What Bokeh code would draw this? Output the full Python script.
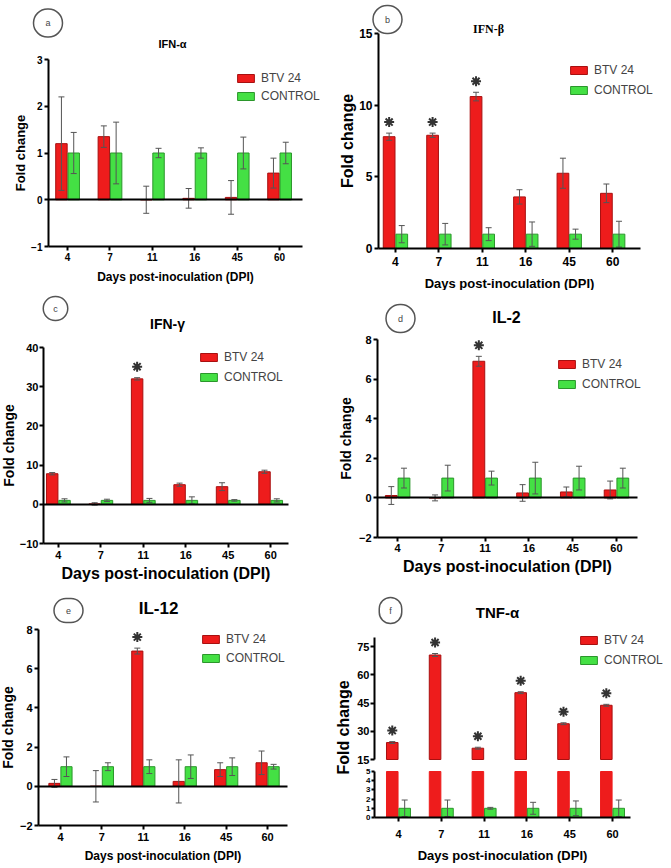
import math
from bokeh.plotting import figure
from bokeh.models import (Range1d, FixedTicker, Label, Legend, LegendItem, LinearAxis,
                          ColumnDataSource)
from bokeh.layouts import column, row
from bokeh.embed import file_html
from bokeh.resources import INLINE

# ---------------- data ----------------
DPI = ["4", "7", "11", "16", "45", "60"]
SERIES = ["BTV 24", "CONTROL"]

IFNA_BTV = [1.20, 1.35, 0.00, 0.03, 0.05, 0.57]
IFNA_BTV_SD = [1.00, 0.23, 0.29, 0.21, 0.36, 0.32]
IFNA_CTRL = [1.0, 1.0, 1.0, 1.0, 1.0, 1.0]
IFNA_CTRL_SD = [0.44, 0.66, 0.10, 0.11, 0.34, 0.23]
IFNA_SIG = [False, False, False, False, False, False]

IFNB_BTV = [7.8, 7.9, 10.6, 3.6, 5.25, 3.85]
IFNB_BTV_SD = [0.25, 0.15, 0.30, 0.50, 1.05, 0.65]
IFNB_CTRL = [1.0, 1.0, 1.0, 1.0, 1.0, 1.0]
IFNB_CTRL_SD = [0.60, 0.75, 0.45, 0.85, 0.35, 0.90]
IFNB_SIG = [True, True, True, False, False, False]

IFNG_BTV = [7.8, 0.1, 32.0, 5.0, 4.5, 8.3]
IFNG_BTV_SD = [0.3, 0.3, 0.3, 0.4, 1.0, 0.4]
IFNG_CTRL = [1.0, 1.0, 1.0, 1.0, 1.0, 1.0]
IFNG_CTRL_SD = [0.4, 0.3, 0.5, 0.9, 0.2, 0.4]
IFNG_SIG = [False, False, True, False, False, False]

IL2_BTV = [0.12, 0.0, 6.9, 0.25, 0.30, 0.40]
IL2_BTV_SD = [0.45, 0.15, 0.25, 0.42, 0.25, 0.45]
IL2_CTRL = [1.0, 1.0, 1.0, 1.0, 1.0, 1.0]
IL2_CTRL_SD = [0.50, 0.65, 0.35, 0.80, 0.60, 0.50]
IL2_SIG = [False, False, True, False, False, False]

IL12_BTV = [0.15, 0.0, 6.9, 0.25, 0.85, 1.20]
IL12_BTV_SD = [0.20, 0.80, 0.15, 1.10, 0.35, 0.60]
IL12_CTRL = [1.0, 1.0, 1.0, 1.0, 1.0, 1.0]
IL12_CTRL_SD = [0.50, 0.20, 0.35, 0.60, 0.45, 0.12]
IL12_SIG = [False, False, True, False, False, False]

TNFA_BTV = [24.0, 70.5, 21.0, 50.5, 34.0, 43.8]
TNFA_BTV_SD = [0.5, 0.8, 0.5, 0.5, 0.5, 0.5]
TNFA_CTRL = [1.0, 1.0, 1.0, 1.0, 1.0, 1.0]
TNFA_CTRL_SD = [0.90, 0.90, 0.10, 0.65, 0.80, 0.90]
TNFA_SIG = [True, True, True, True, True, True]

# ---------------- style ----------------
RED, RED_EDGE = "#EE1C1C", "#A81010"
GREEN, GREEN_EDGE = "#44E044", "#2B962B"
ERR = "#555555"
FONT = "Liberation Sans"
DX = 0.145      # half offset of the two bars in a group
BW = 0.27       # bar width (category units)


def style_axis(ax, tick_fs, standoff=2):
    ax.axis_line_width = 2
    ax.axis_line_color = "black"
    ax.major_tick_line_width = 2
    ax.major_tick_line_color = "black"
    ax.major_tick_out = 4
    ax.major_tick_in = 0
    ax.minor_tick_line_color = None
    ax.major_label_text_font = FONT
    ax.major_label_text_font_style = "bold"
    ax.major_label_text_font_size = f"{tick_fs}px"
    ax.major_label_text_color = "black"
    ax.major_label_standoff = standoff
    ax.axis_label_text_font = FONT
    ax.axis_label_text_font_style = "bold"
    ax.axis_label_text_color = "black"


class Panel:
    """One figure whose frame covers its whole cell; axes are pinned to the data box."""

    def __init__(self, fx, fy, fw, fh, L, R, T, B, xr, yr, x_axis=True):
        self.fx, self.fy, self.fw, self.fh = fx, fy, fw, fh
        self.L, self.R, self.T, self.B, self.xr, self.yr = L, R, T, B, xr, yr
        ppx = (R - L) / (xr[1] - xr[0])
        ppy = (B - T) / (yr[1] - yr[0])
        X0 = xr[0] - (L - fx) / ppx
        X1 = xr[1] + (fx + fw - R) / ppx
        Y0 = yr[0] - (fy + fh - B) / ppy
        Y1 = yr[1] + (T - fy) / ppy
        p = figure(width=fw, height=fh, output_backend="svg", toolbar_location=None,
                   x_range=Range1d(X0, X1), y_range=Range1d(Y0, Y1), title=None,
                   x_axis_location="below" if x_axis else None,
                   min_border=0, min_border_left=0, min_border_right=0,
                   min_border_top=0, min_border_bottom=0)
        p.xgrid.visible = False
        p.ygrid.visible = False
        p.outline_line_color = None
        p.background_fill_color = "white"
        p.border_fill_color = "white"
        p.yaxis.fixed_location = xr[0]
        p.yaxis.bounds = tuple(yr)
        if x_axis:
            p.xaxis.fixed_location = yr[0]
            p.xaxis.bounds = tuple(xr)
        self.p = p
        self.ppu = ppy

    def conv(self, ax, ay):
        xr, yr = self.xr, self.yr
        x = xr[0] + (ax - self.L) / (self.R - self.L) * (xr[1] - xr[0])
        y = yr[0] + (self.B - ay) / (self.B - self.T) * (yr[1] - yr[0])
        return x, y


def style_panel(P, tick_fs, xl_fs, yl_fs, yticks, x_tick_standoff=2,
                x_label_standoff=3, y_label_standoff=2, y_tick_standoff=2,
                xlab="Days post-inoculation (DPI)", ylab="Fold change"):
    p = P.p
    for ax in p.yaxis:
        style_axis(ax, tick_fs, y_tick_standoff)
    p.yaxis.ticker = FixedTicker(ticks=yticks)
    if yl_fs:
        p.yaxis.axis_label = ylab
        p.yaxis.axis_label_text_font_size = f"{yl_fs}px"
        p.yaxis.axis_label_standoff = y_label_standoff
    for ax in p.xaxis:
        style_axis(ax, tick_fs, x_tick_standoff)
    p.xaxis.ticker = FixedTicker(ticks=list(range(len(DPI))))
    p.xaxis.major_label_overrides = {i: d for i, d in enumerate(DPI)}
    if xl_fs:
        p.xaxis.axis_label = xlab
        p.xaxis.axis_label_text_font_size = f"{xl_fs}px"
        p.xaxis.axis_label_standoff = x_label_standoff


def zero_axis(P):
    ax = LinearAxis(fixed_location=0, bounds=tuple(P.xr), ticker=FixedTicker(ticks=[]),
                    axis_line_width=2, axis_line_color="black",
                    major_tick_line_color=None, minor_tick_line_color=None,
                    major_label_text_font_size="0px")
    P.p.add_layout(ax, "below")


def error_bars(p, src, xc, lo, hi, **kw):
    p.segment(x0=xc, y0=lo, x1=xc, y1=hi, source=src, line_color=ERR, line_width=1, **kw)
    p.scatter(x=xc, y=hi, source=src, marker="dash", size=6, line_color=ERR, line_width=1, **kw)
    p.scatter(x=xc, y=lo, source=src, marker="dash", size=6, line_color=ERR, line_width=1, **kw)


def make_source(btv, btv_sd, ctrl, ctrl_sd):
    idx = list(range(len(DPI)))
    return ColumnDataSource(dict(
        xr=[i - DX for i in idx], xg=[i + DX for i in idx],
        btv=btv, ctrl=ctrl,
        bl=[v - s for v, s in zip(btv, btv_sd)], bu=[v + s for v, s in zip(btv, btv_sd)],
        cl=[v - s for v, s in zip(ctrl, ctrl_sd)], cu=[v + s for v, s in zip(ctrl, ctrl_sd)],
    ))


def asterisks(P, btv, btv_sd, sig):
    pad = 11 / P.ppu
    idx = list(range(len(DPI)))
    sx = [i - DX for i, s in zip(idx, sig) if s]
    sy = [v + e + pad for v, e, s in zip(btv, btv_sd, sig) if s]
    if sx:
        P.p.scatter(x=sx, y=sy, marker="asterisk", size=10, line_width=2, line_color="#333333")


def draw_bars(P, btv, btv_sd, ctrl, ctrl_sd, sig):
    p = P.p
    src = make_source(btv, btv_sd, ctrl, ctrl_sd)
    r1 = p.vbar(x="xr", top="btv", bottom=0, width=BW, source=src,
                fill_color=RED, line_color=RED_EDGE, line_width=1)
    r2 = p.vbar(x="xg", top="ctrl", bottom=0, width=BW, source=src,
                fill_color=GREEN, line_color=GREEN_EDGE, line_width=1)
    error_bars(p, src, "xr", "bl", "bu")
    error_bars(p, src, "xg", "cl", "cu")
    asterisks(P, btv, btv_sd, sig)
    return r1, r2


def add_text(P, ax, ay, text, size, font=FONT, style="bold", angle=0.0):
    x, y = P.conv(ax, ay)
    P.p.add_layout(Label(x=x, y=y, text=text, text_font_size=f"{size}px", text_font=font,
                         text_font_style=style, text_align="center", text_baseline="middle",
                         text_color="black", angle=angle))


def add_circle(P, ax, ay, r, letter):
    x, y = P.conv(ax, ay)
    tw, th = 5, 10
    lr = int(round(r - tw / 2))
    tb = int(round(r - th / 2))
    P.p.add_layout(Label(x=x, y=y, text=letter, text_font_size="9px", text_font=FONT,
                         text_align="center", text_baseline="middle", text_color="#444444",
                         border_line_color="#555555", border_line_width=1.5,
                         border_radius=r,
                         padding=dict(left=lr, right=lr, top=tb, bottom=tb)))


def add_legend(P, left_abs, row1_abs, pitch, rends, fs=12):
    lh = 14
    sp = pitch - lh
    top = row1_abs - lh / 2
    h = 2 * lh + sp
    vx = left_abs - P.fx - 2
    vy = (P.fy + P.fh) - (top + h)
    lg = Legend(items=[LegendItem(label=SERIES[0], renderers=[rends[0]]),
                       LegendItem(label=SERIES[1], renderers=[rends[1]])],
                location=(vx, vy), padding=0, margin=0, spacing=int(round(sp)),
                label_height=lh, glyph_height=10, glyph_width=21, label_standoff=5,
                background_fill_alpha=0, border_line_alpha=0,
                label_text_font_size=f"{fs}px", label_text_font=FONT)
    P.p.add_layout(lg)


# ---------------- panel a ----------------
pa = Panel(0, 0, 335, 290, 48, 302, 59, 246, (-0.45, 5.54), (-1, 3))
style_panel(pa, 10, 12, 13, [-1, 0, 1, 2, 3], x_tick_standoff=2, x_label_standoff=6,
            y_label_standoff=0)
zero_axis(pa)
ra = draw_bars(pa, IFNA_BTV, IFNA_BTV_SD, IFNA_CTRL, IFNA_CTRL_SD, IFNA_SIG)
add_legend(pa, 237, 78.5, 17.5, ra)
add_text(pa, 172, 43, "IFN-α", 11)
add_circle(pa, 47.5, 22.5, 14, "a")

# ---------------- panel b ----------------
pb = Panel(335, 0, 336, 290, 378, 640, 33, 248, (-0.39, 5.64), (0, 15))
style_panel(pb, 12, 13, 16, [0, 5, 10, 15], x_tick_standoff=4, x_label_standoff=7,
            y_label_standoff=0)
rb = draw_bars(pb, IFNB_BTV, IFNB_BTV_SD, IFNB_CTRL, IFNB_CTRL_SD, IFNB_SIG)
add_legend(pb, 570, 69.5, 20.5, rb)
add_text(pb, 488, 28, "IFN-β", 12, font="Liberation Serif")
add_circle(pb, 387, 19, 14, "b")

# ---------------- panel c ----------------
pc = Panel(0, 290, 335, 296, 43, 288, 347, 543, (-0.35, 5.42), (-10, 40))
style_panel(pc, 11, 16, 14, [-10, 0, 10, 20, 30, 40], x_tick_standoff=3, x_label_standoff=3,
            y_label_standoff=0, y_tick_standoff=1)
zero_axis(pc)
rc = draw_bars(pc, IFNG_BTV, IFNG_BTV_SD, IFNG_CTRL, IFNG_CTRL_SD, IFNG_SIG)
add_legend(pc, 200, 357, 20, rc)
add_text(pc, 167, 323, "IFN-γ", 14)
add_circle(pc, 55, 308, 12, "c")

# ---------------- panel d ----------------
pd_ = Panel(335, 290, 336, 296, 377, 637, 339, 537, (-0.46, 5.48), (-2, 8))
style_panel(pd_, 11, 16, 14, [-2, 0, 2, 4, 6, 8], x_tick_standoff=2, x_label_standoff=3)
zero_axis(pd_)
rd = draw_bars(pd_, IL2_BTV, IL2_BTV_SD, IL2_CTRL, IL2_CTRL_SD, IL2_SIG)
add_legend(pd_, 558, 363.5, 20, rd)
add_text(pd_, 506, 317, "IL-2", 16)
add_circle(pd_, 400, 318, 14, "d")

# ---------------- panel e ----------------
pe = Panel(0, 586, 335, 282, 38, 287, 629, 825, (-0.53, 5.48), (-2, 8))
style_panel(pe, 11, 12, 14, [-2, 0, 2, 4, 6, 8], x_tick_standoff=3, x_label_standoff=5,
            y_label_standoff=1)
zero_axis(pe)
re_ = draw_bars(pe, IL12_BTV, IL12_BTV_SD, IL12_CTRL, IL12_CTRL_SD, IL12_SIG)
add_legend(pe, 202, 639, 19, re_)
add_text(pe, 158, 608, "IL-12", 17)
add_circle(pe, 68, 610, 14, "e")

# ---------------- panel f (broken y axis) ----------------
F_LOW = (0, 5)          # lower segment of the broken axis
F_LOW_TICKS = [0, 1, 2, 3, 4, 5]
pf = Panel(335, 586, 336, 282, 374, 630, 637, 759, (-0.56, 5.42), (15, 79.8))
style_panel(pf, 11, 13, None, [15, 30, 45, 60, 75], x_tick_standoff=8, x_label_standoff=7,
            y_tick_standoff=1)
# lower segment: own range, 771 px (=5) .. 817 px (=0)
lo_T, lo_B = 771, 817
lo_ppy = (lo_B - lo_T) / (F_LOW[1] - F_LOW[0])
pf.p.extra_y_ranges = {"low": Range1d(F_LOW[0] - (pf.fy + pf.fh - lo_B) / lo_ppy,
                                      F_LOW[1] + (lo_T - pf.fy) / lo_ppy)}
low_axis = LinearAxis(y_range_name="low", fixed_location=pf.xr[0], bounds=F_LOW,
                      ticker=FixedTicker(ticks=F_LOW_TICKS))
style_axis(low_axis, 8, 1)
low_axis.major_tick_out = 3
pf.p.add_layout(low_axis, "left")
pf.p.xaxis.fixed_location = pf.conv(0, lo_B)[1]
pf.p.xaxis.bounds = tuple(pf.xr)

src_f = make_source(TNFA_BTV, TNFA_BTV_SD, TNFA_CTRL, TNFA_CTRL_SD)
src_f.data["btv_low"] = [min(v, F_LOW[1]) for v in TNFA_BTV]
rf1 = pf.p.vbar(x="xr", top="btv", bottom=pf.yr[0], width=BW, source=src_f,
                fill_color=RED, line_color=RED_EDGE, line_width=1)
pf.p.vbar(x="xr", top="btv_low", bottom=0, width=BW, source=src_f, y_range_name="low",
          fill_color=RED, line_color=RED, line_width=1)
rf2 = pf.p.vbar(x="xg", top="ctrl", bottom=0, width=BW, source=src_f, y_range_name="low",
                fill_color=GREEN, line_color=GREEN_EDGE, line_width=1)
error_bars(pf.p, src_f, "xr", "bl", "bu")
error_bars(pf.p, src_f, "xg", "cl", "cu", y_range_name="low")
asterisks(pf, TNFA_BTV, TNFA_BTV_SD, TNFA_SIG)
add_legend(pf, 580, 640, 20, (rf1, rf2))
add_text(pf, 497, 612, "TNF-α", 15)
add_circle(pf, 390, 610, 13, "f")
add_text(pf, 343, 727, "Fold change", 16, angle=math.pi / 2)

layout = column(row(pa.p, pb.p), row(pc.p, pd_.p), row(pe.p, pf.p))

open("out.html", "w").write(file_html(layout, INLINE))
